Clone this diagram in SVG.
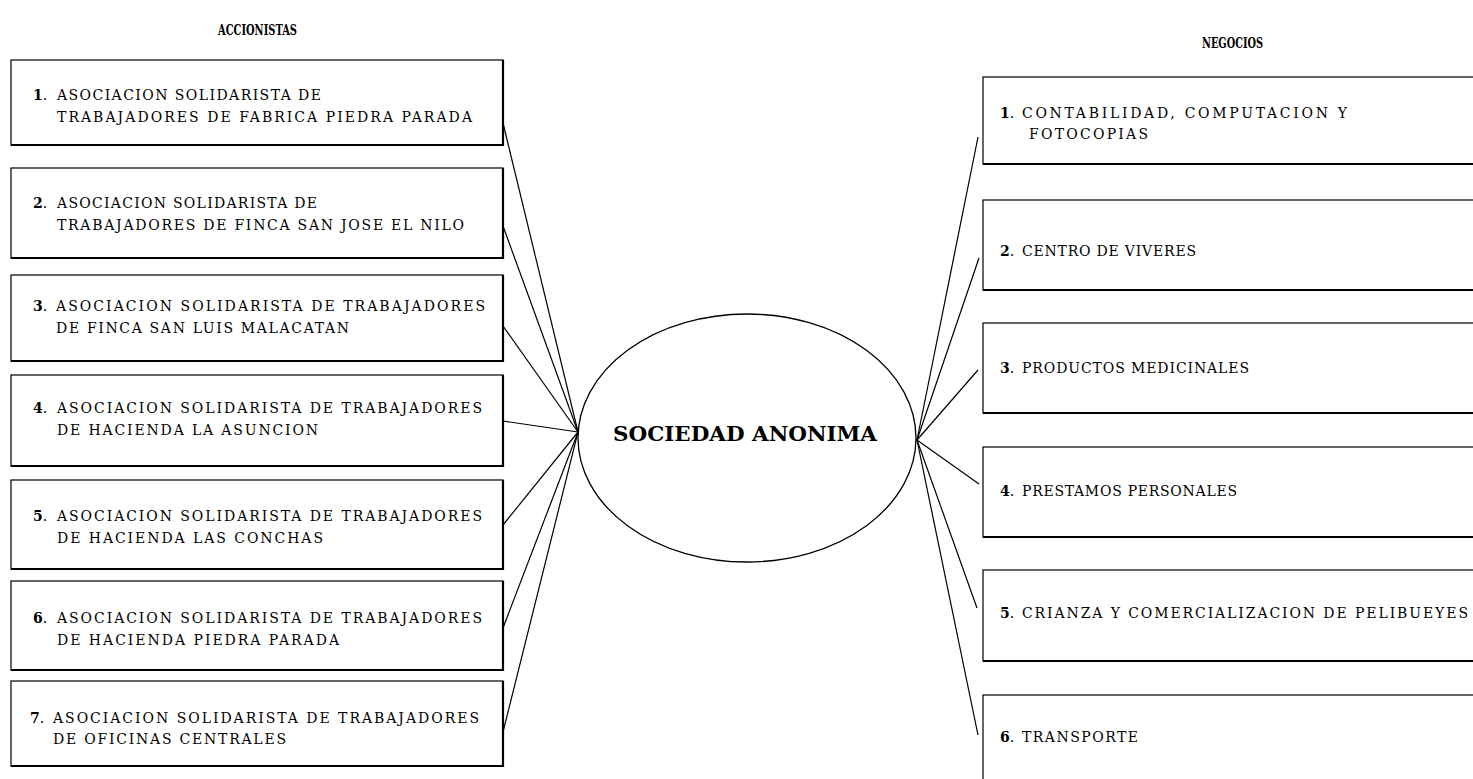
<svg xmlns="http://www.w3.org/2000/svg" width="1473" height="779" viewBox="0 0 1473 779">
<style>
.bg{fill:#fff}
.box{fill:#fff;stroke:#000;stroke-width:1.2}
.sh{fill:none;stroke:#000;stroke-width:2.2}
.t{font-family:"DejaVu Serif","Liberation Serif",serif;font-size:14px;fill:#000}
.n{font-family:"DejaVu Serif","Liberation Serif",serif;font-size:14px;font-weight:bold;fill:#000}
.h{font-family:"DejaVu Serif","Liberation Serif",serif;font-size:15px;font-weight:bold;fill:#000}
.c{font-family:"DejaVu Serif","Liberation Serif",serif;font-size:20px;font-weight:bold;fill:#000}
.ln{stroke:#000;stroke-width:1.2;fill:none}
</style>
<rect class="bg" x="0" y="0" width="1473" height="779"/>
<text class="h" x="218" y="35" textLength="79" lengthAdjust="spacingAndGlyphs">ACCIONISTAS</text>
<text class="h" x="1202" y="48" textLength="61" lengthAdjust="spacingAndGlyphs">NEGOCIOS</text>

<g id="connectors">
<line class="ln" x1="503" y1="123" x2="578" y2="432"/>
<line class="ln" x1="503" y1="226" x2="578" y2="432"/>
<line class="ln" x1="503" y1="326" x2="578" y2="432"/>
<line class="ln" x1="503" y1="421" x2="578" y2="432"/>
<line class="ln" x1="503" y1="525" x2="578" y2="432"/>
<line class="ln" x1="503" y1="628" x2="578" y2="432"/>
<line class="ln" x1="503" y1="732" x2="578" y2="432"/>
<line class="ln" x1="917" y1="440" x2="978" y2="137"/>
<line class="ln" x1="917" y1="440" x2="979" y2="258"/>
<line class="ln" x1="917" y1="440" x2="978" y2="370"/>
<line class="ln" x1="917" y1="440" x2="979" y2="484"/>
<line class="ln" x1="917" y1="440" x2="977" y2="608"/>
<line class="ln" x1="917" y1="440" x2="978" y2="735"/>
</g>

<g id="center">
<ellipse cx="747" cy="438" rx="169" ry="124" fill="#fff" stroke="#000" stroke-width="1.3"/>
<text class="c" x="613" y="441" textLength="264" lengthAdjust="spacingAndGlyphs">SOCIEDAD ANONIMA</text>
</g>

<g id="acc1">
<rect class="box" x="11" y="60" width="492" height="85"/>
<polyline class="sh" points="11,145 503,145 503,60"/>
<text class="n" x="33" y="100">1<tspan font-weight="normal">.</tspan></text>
<text class="t" x="57" y="100" textLength="264" lengthAdjust="spacing">ASOCIACION SOLIDARISTA DE</text>
<text class="t" x="57" y="122" textLength="415" lengthAdjust="spacing">TRABAJADORES DE FABRICA PIEDRA PARADA</text>
</g>
<g id="acc2">
<rect class="box" x="11" y="168" width="492" height="90"/>
<polyline class="sh" points="11,258 503,258 503,168"/>
<text class="n" x="33" y="208">2<tspan font-weight="normal">.</tspan></text>
<text class="t" x="57" y="208" textLength="260" lengthAdjust="spacing">ASOCIACION SOLIDARISTA DE</text>
<text class="t" x="57" y="230" textLength="407" lengthAdjust="spacing">TRABAJADORES DE FINCA SAN JOSE EL NILO</text>
</g>
<g id="acc3">
<rect class="box" x="11" y="275" width="492" height="86"/>
<polyline class="sh" points="11,361 503,361 503,275"/>
<text class="n" x="33" y="311">3<tspan font-weight="normal">.</tspan></text>
<text class="t" x="56" y="311" textLength="429" lengthAdjust="spacing">ASOCIACION SOLIDARISTA DE TRABAJADORES</text>
<text class="t" x="56" y="333" textLength="293" lengthAdjust="spacing">DE FINCA SAN LUIS MALACATAN</text>
</g>
<g id="acc4">
<rect class="box" x="11" y="375" width="492" height="91"/>
<polyline class="sh" points="11,466 503,466 503,375"/>
<text class="n" x="33" y="413">4<tspan font-weight="normal">.</tspan></text>
<text class="t" x="57" y="413" textLength="425" lengthAdjust="spacing">ASOCIACION SOLIDARISTA DE TRABAJADORES</text>
<text class="t" x="57" y="435" textLength="261" lengthAdjust="spacing">DE HACIENDA LA ASUNCION</text>
</g>
<g id="acc5">
<rect class="box" x="11" y="480" width="492" height="89"/>
<polyline class="sh" points="11,569 503,569 503,480"/>
<text class="n" x="33" y="521">5<tspan font-weight="normal">.</tspan></text>
<text class="t" x="57" y="521" textLength="425" lengthAdjust="spacing">ASOCIACION SOLIDARISTA DE TRABAJADORES</text>
<text class="t" x="57" y="543" textLength="266" lengthAdjust="spacing">DE HACIENDA LAS CONCHAS</text>
</g>
<g id="acc6">
<rect class="box" x="11" y="581" width="492" height="89"/>
<polyline class="sh" points="11,670 503,670 503,581"/>
<text class="n" x="33" y="623">6<tspan font-weight="normal">.</tspan></text>
<text class="t" x="57" y="623" textLength="425" lengthAdjust="spacing">ASOCIACION SOLIDARISTA DE TRABAJADORES</text>
<text class="t" x="57" y="645" textLength="282" lengthAdjust="spacing">DE HACIENDA PIEDRA PARADA</text>
</g>
<g id="acc7">
<rect class="box" x="11" y="681" width="492" height="85"/>
<polyline class="sh" points="11,766 503,766 503,681"/>
<text class="n" x="30" y="723">7<tspan font-weight="normal">.</tspan></text>
<text class="t" x="53" y="723" textLength="426" lengthAdjust="spacing">ASOCIACION SOLIDARISTA DE TRABAJADORES</text>
<text class="t" x="53" y="744" textLength="233" lengthAdjust="spacing">DE OFICINAS CENTRALES</text>
</g>

<g id="neg1">
<rect class="box" x="983" y="77" width="500" height="87"/>
<line class="sh" x1="983" y1="164" x2="1483" y2="164"/>
<text class="n" x="1000" y="118">1<tspan font-weight="normal">.</tspan></text>
<text class="t" x="1022" y="118" textLength="325" lengthAdjust="spacing">CONTABILIDAD, COMPUTACION Y</text>
<text class="t" x="1029" y="139" textLength="119" lengthAdjust="spacing">FOTOCOPIAS</text>
</g>
<g id="neg2">
<rect class="box" x="983" y="200" width="500" height="90"/>
<line class="sh" x1="983" y1="290" x2="1483" y2="290"/>
<text class="n" x="1000" y="256">2<tspan font-weight="normal">.</tspan></text>
<text class="t" x="1022" y="256" textLength="174" lengthAdjust="spacing">CENTRO DE VIVERES</text>
</g>
<g id="neg3">
<rect class="box" x="983" y="323" width="500" height="90"/>
<line class="sh" x1="983" y1="413" x2="1483" y2="413"/>
<text class="n" x="1000" y="373">3<tspan font-weight="normal">.</tspan></text>
<text class="t" x="1022" y="373" textLength="227" lengthAdjust="spacing">PRODUCTOS MEDICINALES</text>
</g>
<g id="neg4">
<rect class="box" x="983" y="447" width="500" height="90"/>
<line class="sh" x1="983" y1="537" x2="1483" y2="537"/>
<text class="n" x="1000" y="496">4<tspan font-weight="normal">.</tspan></text>
<text class="t" x="1022" y="496" textLength="215" lengthAdjust="spacing">PRESTAMOS PERSONALES</text>
</g>
<g id="neg5">
<rect class="box" x="983" y="570" width="500" height="91"/>
<line class="sh" x1="983" y1="661" x2="1483" y2="661"/>
<text class="n" x="1000" y="618">5<tspan font-weight="normal">.</tspan></text>
<text class="t" x="1022" y="618" textLength="446" lengthAdjust="spacing">CRIANZA Y COMERCIALIZACION DE PELIBUEYES</text>
</g>
<g id="neg6">
<rect class="box" x="983" y="695" width="500" height="100"/>
<text class="n" x="1000" y="742">6<tspan font-weight="normal">.</tspan></text>
<text class="t" x="1022" y="742" textLength="116" lengthAdjust="spacing">TRANSPORTE</text>
</g>
</svg>
